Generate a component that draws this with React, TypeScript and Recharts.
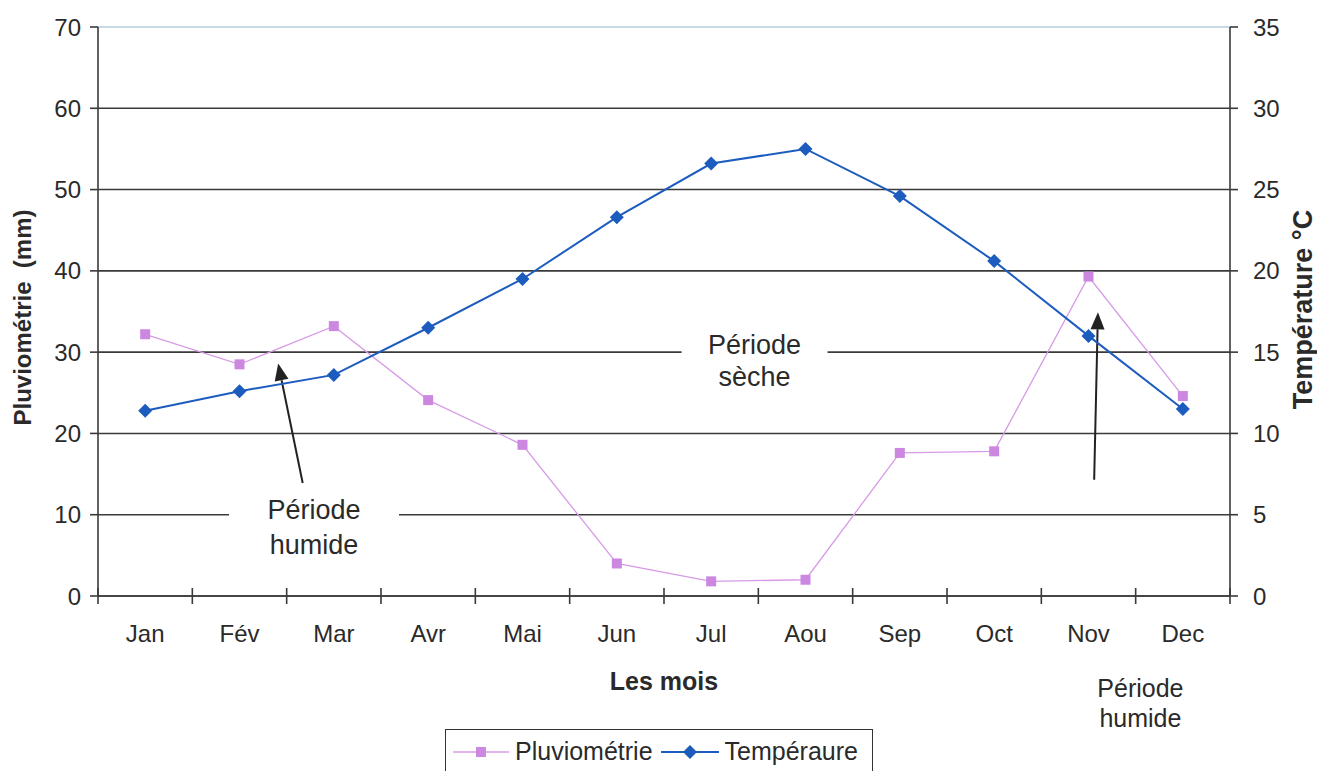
import React from 'react';
import {
  LineChart,
  Line,
  XAxis,
  YAxis,
  CartesianGrid,
  Legend,
  ReferenceDot,
  ReferenceLine,
} from 'recharts';

// ---------- data ----------
const months = ['Jan', 'Fév', 'Mar', 'Avr', 'Mai', 'Jun', 'Jul', 'Aou', 'Sep', 'Oct', 'Nov', 'Dec'];
const pluviometrie = [32.2, 28.5, 33.2, 24.1, 18.6, 4.0, 1.8, 2.0, 17.6, 17.8, 39.3, 24.6];
const temperature = [11.4, 12.6, 13.6, 16.5, 19.5, 23.3, 26.6, 27.5, 24.6, 20.6, 16.0, 11.5];
const leftTicks = [0, 10, 20, 30, 40, 50, 60, 70];
const rightTicks = [0, 5, 10, 15, 20, 25, 30, 35];

const data = months.map((m, i) => ({
  x: i + 1,
  month: m,
  pluvio: pluviometrie[i],
  temp: temperature[i],
}));

// ticks at category centres (labels) and boundaries (tick marks)
const xTicks: number[] = [];
for (let i = 0; i <= months.length * 2; i++) xTicks.push(0.5 + i * 0.5);

const FONT = '"Liberation Sans", Arial, Helvetica, sans-serif';
const PINK = '#cc88e0';
const PINK_LINE = '#d79be6';
const BLUE = '#1d5cbf';
const GRID = '#3a3a3a';

const XTick = (props: any) => {
  const { x, y, payload } = props;
  const v = payload.value;
  if (Number.isInteger(v)) {
    return (
      <text x={x} y={y + 37} textAnchor="middle" dominantBaseline="central" fontSize={24} fontFamily={FONT} fill="#2a2a2a">
        {months[v - 1]}
      </text>
    );
  }
  return <line x1={x} x2={x} y1={y - 8} y2={y + 8} stroke={GRID} strokeWidth={1.6} />;
};

const SquareDot = (props: any) => {
  const { cx, cy, index } = props;
  if (cx == null || cy == null) return <g key={`s${index}`} />;
  return <rect key={`s${index}`} x={cx - 5} y={cy - 5} width={10} height={10} fill={PINK} />;
};

const DiamondDot = (props: any) => {
  const { cx, cy, index } = props;
  if (cx == null || cy == null) return <g key={`d${index}`} />;
  const r = 7;
  return (
    <polygon
      key={`d${index}`}
      points={`${cx},${cy - r} ${cx + r},${cy} ${cx},${cy + r} ${cx - r},${cy}`}
      fill={BLUE}
    />
  );
};

const makeTextBox = (lines: string[], boxW: number, boxH: number, fontSize: number, lh: number) => (p: any) => {
  const { cx, cy } = p;
  const n = lines.length;
  return (
    <g>
      {boxW > 0 && <rect x={cx - boxW / 2} y={cy - boxH / 2} width={boxW} height={boxH} fill="#ffffff" />}
      {lines.map((l, i) => (
        <text
          key={i}
          x={cx}
          y={cy + (i - (n - 1) / 2) * lh}
          textAnchor="middle"
          dominantBaseline="central"
          fontSize={fontSize}
          fontFamily={FONT}
          fill="#2a2a2a"
        >
          {l}
        </text>
      ))}
    </g>
  );
};

const Arrow = (p: any) => {
  const { x1, y1, x2, y2 } = p;
  const dx = x2 - x1;
  const dy = y2 - y1;
  const len = Math.sqrt(dx * dx + dy * dy) || 1;
  const ux = dx / len;
  const uy = dy / len;
  const headL = 17;
  const headW = 7;
  const bx = x2 - ux * headL;
  const by = y2 - uy * headL;
  const px = -uy;
  const py = ux;
  return (
    <g>
      <line x1={x1} y1={y1} x2={bx} y2={by} stroke="#222" strokeWidth={2} />
      <polygon
        points={`${x2},${y2} ${bx + px * headW},${by + py * headW} ${bx - px * headW},${by - py * headW}`}
        fill="#222"
      />
    </g>
  );
};

const GridLine = (p: any) => {
  const { x1, x2, y1, y2, y } = p;
  const isTop = Math.abs(y1 - y) < 1;
  return (
    <line
      key={`g${y1}`}
      x1={x1}
      x2={x2}
      y1={y1}
      y2={y2}
      stroke={isTop ? '#8fb3c8' : GRID}
      strokeWidth={isTop ? 1 : 1.6}
    />
  );
};

const renderLegend = () => (
  <div
    style={{
      width: 428,
      height: 44,
      boxSizing: 'border-box',
      border: '1.5px solid #333',
      borderBottom: 'none',
      background: '#fff',
      display: 'flex',
      alignItems: 'center',
      fontFamily: FONT,
      fontSize: 25,
      color: '#2a2a2a',
    }}
  >
    <svg width={64} height={20} style={{ marginLeft: 5 }}>
      <line x1={2} x2={58} y1={10} y2={10} stroke={PINK_LINE} strokeWidth={1.3} />
      <rect x={25} y={5} width={10} height={10} fill={PINK} />
    </svg>
    <span style={{ marginLeft: 0 }}>Pluviométrie</span>
    <svg width={66} height={20} style={{ marginLeft: 6 }}>
      <line x1={2} x2={60} y1={10} y2={10} stroke={BLUE} strokeWidth={2} />
      <polygon points="31,3 38,10 31,17 24,10" fill={BLUE} />
    </svg>
    <span style={{ marginLeft: 0 }}>Tempéraure</span>
  </div>
);

export default function App() {
  return (
    <div style={{ position: 'absolute', left: 0, top: 0, width: 1317, height: 771, background: '#fff' }}>
      <LineChart
        width={1317}
        height={771}
        data={data}
        margin={{ top: 27, right: 0, bottom: 0, left: 0 }}
        style={{ fontFamily: FONT }}
      >
        <CartesianGrid vertical={false} horizontal={GridLine as any} yAxisId="left" />
        <XAxis
          dataKey="x"
          type="number"
          domain={[0.5, 12.5]}
          ticks={xTicks}
          interval={0}
          tickFormatter={(v: number) => (Number.isInteger(v) ? months[v - 1] : '')}
          tick={XTick}
          tickLine={false}
          tickSize={0}
          tickMargin={0}
          height={175}
          axisLine={{ stroke: GRID, strokeWidth: 1.6 }}
          allowDataOverflow
          label={{
            content: (p: any) => {
              const vb = p.viewBox;
              return (
                <text
                  x={vb.x + vb.width / 2}
                  y={vb.y + 85}
                  textAnchor="middle"
                  dominantBaseline="central"
                  fontSize={25}
                  fontWeight="bold"
                  fontFamily={FONT}
                  fill="#2a2a2a"
                >
                  Les mois
                </text>
              );
            },
          }}
        />
        <YAxis
          yAxisId="left"
          orientation="left"
          width={98}
          domain={[0, 70]}
          ticks={leftTicks}
          interval={0}
          tick={{ fontSize: 24, fill: '#2a2a2a', fontFamily: FONT }}
          tickSize={8}
          tickMargin={9}
          tickLine={{ stroke: GRID, strokeWidth: 1.6 }}
          axisLine={{ stroke: GRID, strokeWidth: 1.6 }}
          label={{
            content: (p: any) => {
              const vb = p.viewBox;
              const cx = vb.x + 22;
              const cy = vb.y + vb.height / 2 + 6;
              return (
                <text
                  x={cx}
                  y={cy}
                  transform={`rotate(-90, ${cx}, ${cy})`}
                  textAnchor="middle"
                  dominantBaseline="central"
                  fontSize={24}
                  fontWeight="bold"
                  fontFamily={FONT}
                  fill="#2a2a2a"
                  style={{ whiteSpace: 'pre' }}
                >
                  {'Pluviométrie  (mm)'}
                </text>
              );
            },
          }}
        />
        <YAxis
          yAxisId="right"
          orientation="right"
          width={87}
          domain={[0, 35]}
          ticks={rightTicks}
          interval={0}
          tick={{ fontSize: 24, fill: '#2a2a2a', fontFamily: FONT }}
          tickSize={8}
          tickMargin={15}
          tickLine={{ stroke: GRID, strokeWidth: 1.6 }}
          axisLine={{ stroke: GRID, strokeWidth: 1.6 }}
          label={{
            content: (p: any) => {
              const vb = p.viewBox;
              const cx = vb.x + 73;
              const cy = vb.y + vb.height / 2 - 2;
              return (
                <text
                  x={cx}
                  y={cy}
                  transform={`rotate(-90, ${cx}, ${cy})`}
                  textAnchor="middle"
                  dominantBaseline="central"
                  fontSize={27}
                  fontWeight="bold"
                  fontFamily={FONT}
                  fill="#2a2a2a"
                >
                  Température °C
                </text>
              );
            },
          }}
        />

        <ReferenceDot
          yAxisId="left"
          x={7.46}
          y={28.9}
          ifOverflow="visible"
          shape={makeTextBox(['Période', 'sèche'], 146, 76, 27, 32)}
        />
        <ReferenceDot
          yAxisId="left"
          x={2.79}
          y={8.4}
          ifOverflow="visible"
          shape={makeTextBox(['Période', 'humide'], 170, 70, 27, 35)}
        />
        <ReferenceDot
          yAxisId="left"
          x={11.55}
          y={-13.2}
          ifOverflow="visible"
          shape={makeTextBox(['Période', 'humide'], 0, 0, 25, 30)}
        />
        <ReferenceLine
          yAxisId="left"
          ifOverflow="visible"
          segment={[
            { x: 2.67, y: 13.9 },
            { x: 2.41, y: 28.6 },
          ]}
          shape={Arrow}
        />
        <ReferenceLine
          yAxisId="left"
          ifOverflow="visible"
          segment={[
            { x: 11.06, y: 14.3 },
            { x: 11.1, y: 34.9 },
          ]}
          shape={Arrow}
        />

        <Line
          yAxisId="left"
          type="linear"
          dataKey="pluvio"
          name="Pluviométrie"
          stroke={PINK_LINE}
          strokeWidth={1.3}
          dot={SquareDot}
          activeDot={false}
          isAnimationActive={false}
        />
        <Line
          yAxisId="right"
          type="linear"
          dataKey="temp"
          name="Tempéraure"
          stroke={BLUE}
          strokeWidth={2}
          dot={DiamondDot}
          activeDot={false}
          isAnimationActive={false}
        />
        <Legend
          layout="horizontal"
          verticalAlign="middle"
          align="center"
          wrapperStyle={{ position: 'absolute', left: 445, top: 729, width: 428, height: 44 }}
          content={renderLegend}
        />
      </LineChart>
    </div>
  );
}
